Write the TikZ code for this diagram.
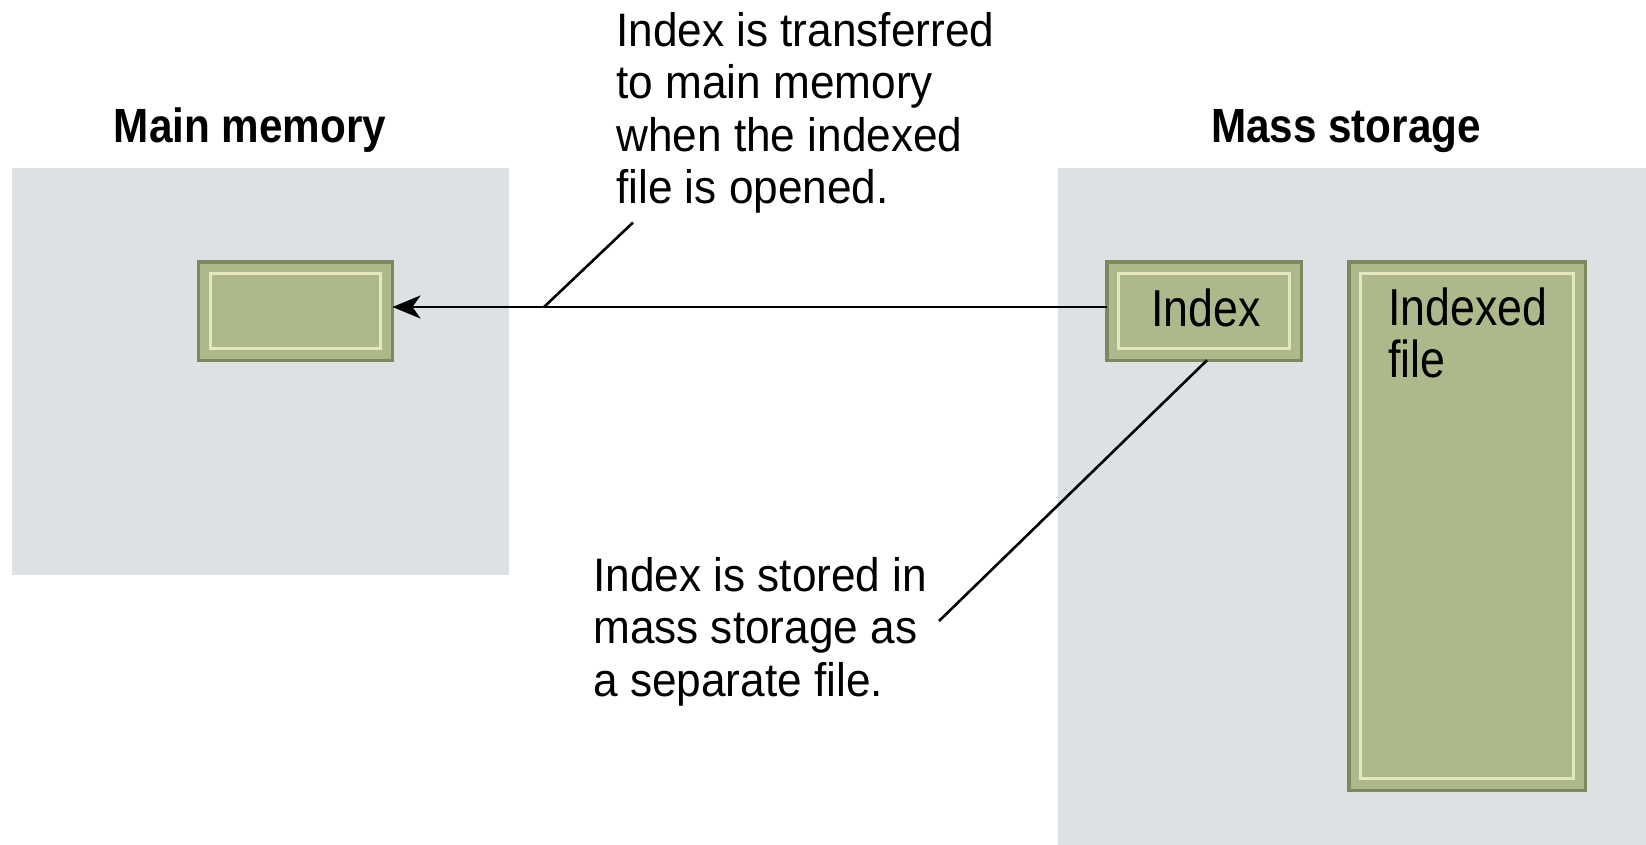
\documentclass[tikz,border=0pt]{standalone}
\usepackage{fontspec}
\setmainfont[FakeStretch=0.94]{Liberation Sans}
\newfontfamily\boxfont[FakeStretch=0.86]{Liberation Sans}
\newfontfamily\headfont[FakeStretch=0.88]{Liberation Sans}
\usetikzlibrary{arrows.meta}
\definecolor{panel}{HTML}{DDE1E3}
\definecolor{boxgreen}{HTML}{AEB98B}
\definecolor{boxedge}{HTML}{7B8A5C}
\definecolor{boxinner}{HTML}{E4E8C0}
\begin{document}
\begin{tikzpicture}[x=1pt,y=1pt,
 panelbox/.style={fill=panel, draw=none, inner sep=0, outer sep=0, anchor=north west},
 greenbox/.style={draw=boxedge, fill=boxgreen, line width=3.5pt, inner sep=0, outer sep=0},
 innerline/.style={draw=boxinner, line width=3pt},
 note/.style={anchor=north west, inner sep=0, align=left, font=\fontsize{47}{52.5}\selectfont},
 boxlabel/.style={inner sep=0, align=left, font=\boxfont\fontsize{52}{52}\selectfont},
 head/.style={anchor=base, inner sep=0, font=\headfont\bfseries\fontsize{48}{52}\selectfont},
 callout/.style={line width=2.6pt},
 arrowline/.style={line width=2.8pt, -{Stealth[length=28pt,width=23pt,inset=8pt]}}
]
\useasboundingbox (0,0) rectangle (1646,-845);
\fill[white] (0,0) rectangle (1646,-845);
% panels
\node[panelbox, minimum width=497, minimum height=407] (mainpanel) at (12,-168) {};
\node[panelbox, minimum width=588, minimum height=677] (masspanel) at (1058,-168) {};
% headers
\node[head] (mainhead) at (250,-143) {Main memory};
\node[head] (masshead) at (1346,-143) {Mass storage};
% green boxes
\node[greenbox, minimum width=194, minimum height=98.5] (memidx) at (295.5,-311) {};
\node[greenbox, minimum width=194.5, minimum height=98.5] (idx) at (1204,-311) {};
\node[greenbox, minimum width=236.5, minimum height=528.5] (ifile) at (1467,-526) {};
\foreach \b in {memidx,idx,ifile}{
  \draw[innerline] ([shift={(12,-12)}]\b.north west) rectangle ([shift={(-12,12)}]\b.south east);
}
% box labels
\node[boxlabel, anchor=base] (idxlab) at (1206,-326) {Index};
\node[boxlabel, anchor=north west] (ifilelab) at (1388,-288) {Indexed\\file};
% arrow
\draw[arrowline] ([yshift=4]idx.west) -- ([yshift=4]memidx.east);
% notes
\node[note] (note1) at (616,-12) {Index is transferred\\to main memory\\when the indexed\\file is opened.};
\node[note] (note2) at (593,-557) {Index is stored in\\mass storage as\\a separate file.};
% callouts
\coordinate (c1a) at (544,-307);
\coordinate (c1b) at (633,-222.5);
\draw[callout] (c1a) -- (c1b);
\coordinate (c2b) at (939,-621);
\draw[callout] ([xshift=3]idx.south) -- (c2b);
\end{tikzpicture}
\end{document}
